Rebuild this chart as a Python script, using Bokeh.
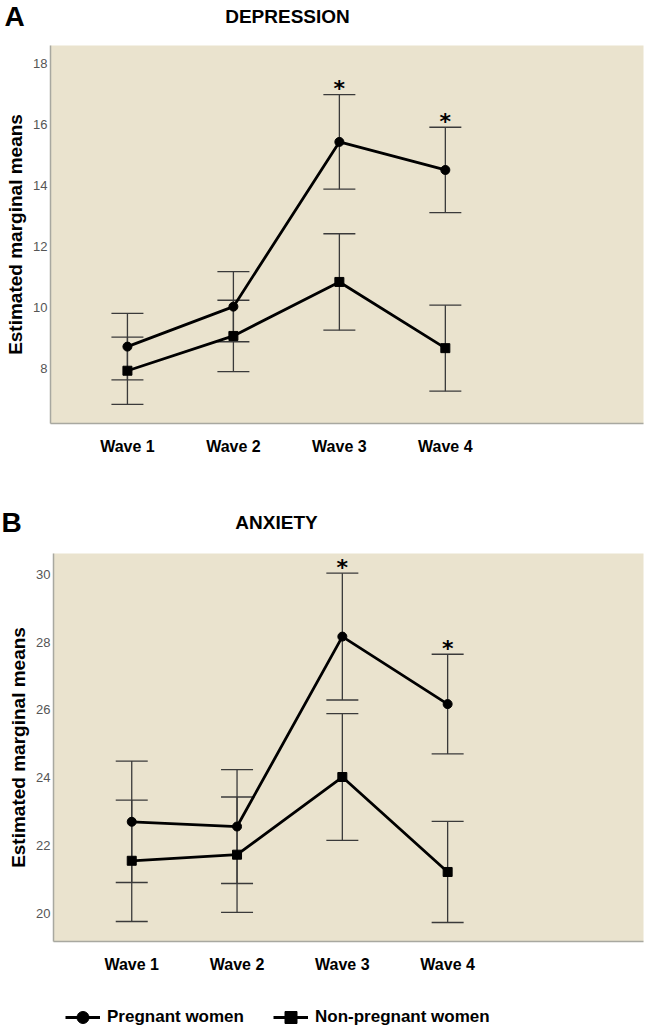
from bokeh.plotting import figure
from bokeh.models import (ColumnDataSource, Whisker, TeeHead, FixedTicker,
                          Legend, LegendItem, Range1d)
from bokeh.layouts import column
from bokeh.embed import file_html
from bokeh.resources import INLINE
from bokeh.core.properties import value

# ---------------- data ----------------
waves = ["Wave 1", "Wave 2", "Wave 3", "Wave 4"]
wave_pos = [1, 2, 3, 4]
significance = ["", "", "*", "*"]

dep_pregnant = [8.73, 10.04, 15.44, 14.52]
dep_pregnant_err = [1.09, 1.15, 1.55, 1.40]
dep_nonpregnant = [7.94, 9.08, 10.85, 8.68]
dep_nonpregnant_err = [1.10, 1.17, 1.58, 1.41]

anx_pregnant = [22.70, 22.56, 28.16, 26.17]
anx_pregnant_err = [1.79, 1.68, 1.87, 1.47]
anx_nonpregnant = [21.55, 21.73, 24.02, 21.22]
anx_nonpregnant_err = [1.79, 1.70, 1.87, 1.49]

dep_ticks = [8, 10, 12, 14, 16, 18]
anx_ticks = [20, 22, 24, 26, 28, 30]

series_labels = ["Pregnant women", "Non-pregnant women"]

SANS = "'Liberation Sans', Arial, Helvetica, sans-serif"
STAR_FONT = "'DejaVu Sans', 'Liberation Sans', sans-serif"
BG = "#EAE3CE"
W = 645


def bare(height):
    f = figure(width=W, height=height, output_backend="svg", toolbar_location=None,
               x_range=Range1d(0, W), y_range=Range1d(0, height),
               x_axis_type=None, y_axis_type=None,
               min_border=0, min_border_left=0, min_border_right=0,
               min_border_top=0, min_border_bottom=0)
    f.grid.visible = False
    f.outline_line_color = None
    f.background_fill_color = "white"
    return f


def header(height, letter, title, letter_x, title_x, text_y):
    h = bare(height)
    h.text(x=[letter_x], y=[text_y], text=[letter], text_font=value(SANS),
           text_font_style="bold", text_font_size="28px", text_align="left",
           text_baseline="middle", text_color="black")
    h.text(x=[title_x], y=[text_y], text=[title], text_font=value(SANS),
           text_font_style="bold", text_font_size="19px", text_align="center",
           text_baseline="middle", text_color="black")
    return h


def make_panel(preg, preg_err, nonp, nonp_err, ticks, yr, xr, height,
               mb_left, mb_bottom):
    p = figure(width=W, height=height, output_backend="svg",
               toolbar_location=None, x_range=Range1d(*xr), y_range=Range1d(*yr),
               min_border_left=mb_left, min_border_right=2,
               min_border_top=0, min_border_bottom=mb_bottom)
    p.background_fill_color = BG
    p.border_fill_color = "white"
    p.outline_line_color = None
    p.xgrid.visible = False
    p.ygrid.visible = False

    p.xaxis.ticker = FixedTicker(ticks=wave_pos)
    p.xaxis.major_label_overrides = {k: v for k, v in zip(wave_pos, waves)}
    p.xaxis.major_label_text_font = SANS
    p.xaxis.major_label_text_font_style = "bold"
    p.xaxis.major_label_text_font_size = "16px"
    p.xaxis.major_label_text_color = "black"
    p.xaxis.major_label_standoff = 14
    p.yaxis.ticker = FixedTicker(ticks=ticks)
    p.yaxis.major_label_text_font = SANS
    p.yaxis.major_label_text_font_size = "13px"
    p.yaxis.major_label_text_color = "#555555"
    p.yaxis.major_label_standoff = 3
    p.yaxis.axis_label = "Estimated marginal means"
    p.yaxis.axis_label_text_font = SANS
    p.yaxis.axis_label_text_font_style = "bold"
    p.yaxis.axis_label_text_font_size = "19px"
    p.yaxis.axis_label_text_color = "black"
    p.yaxis.axis_label_standoff = 4
    for ax in (p.xaxis, p.yaxis):
        ax.major_tick_line_color = None
        ax.minor_tick_line_color = None
        ax.major_tick_out = 0
        ax.major_tick_in = 0
        ax.axis_line_color = "#A8A8A0"
        ax.axis_line_width = 1.5

    src = ColumnDataSource(dict(
        x=wave_pos,
        preg=preg,
        preg_lo=[m - e for m, e in zip(preg, preg_err)],
        preg_hi=[m + e for m, e in zip(preg, preg_err)],
        nonp=nonp,
        nonp_lo=[m - e for m, e in zip(nonp, nonp_err)],
        nonp_hi=[m + e for m, e in zip(nonp, nonp_err)],
        sig=significance,
    ))

    for lo, hi in (("preg_lo", "preg_hi"), ("nonp_lo", "nonp_hi")):
        w = Whisker(source=src, base="x", lower=lo, upper=hi, dimension="height",
                    line_color="#3a3a3a", line_width=1.3,
                    upper_head=TeeHead(size=32, line_color="#3a3a3a", line_width=1.3),
                    lower_head=TeeHead(size=32, line_color="#3a3a3a", line_width=1.3))
        p.add_layout(w)

    p.line("x", "preg", source=src, line_color="black", line_width=2.8)
    p.scatter("x", "preg", source=src, marker="circle", size=9,
              fill_color="black", line_color="black")
    p.line("x", "nonp", source=src, line_color="black", line_width=2.8)
    p.scatter("x", "nonp", source=src, marker="square", size=9,
              fill_color="black", line_color="black")

    p.text("x", "preg_hi", text="sig", source=src, text_align="center",
           text_baseline="middle", y_offset=-6, text_font=value(STAR_FONT),
           text_font_style="bold", text_font_size="22px", text_color="black")
    return p


hA = header(45, "A", "DEPRESSION", 4, 287, 29)
pA = make_panel(dep_pregnant, dep_pregnant_err, dep_nonpregnant, dep_nonpregnant_err,
                dep_ticks, (6.21, 18.6), (0.274, 5.87), 433, 50, 55)

hB = header(75, "B", "ANXIETY", 1, 276, 31)
pB = make_panel(anx_pregnant, anx_pregnant_err, anx_nonpregnant, anx_nonpregnant_err,
                anx_ticks, (19.17, 30.61), (0.257, 5.86), 432, 53, 44)

# legend footer (legend-only glyphs kept outside the visible frame)
foot = bare(48)
r_line1 = foot.line(x=[-50, -40], y=[-50, -50], line_color="black", line_width=2.8)
r_mark1 = foot.scatter(x=[-50], y=[-50], marker="circle", fill_color="black", line_color="black")
r_line2 = foot.line(x=[-50, -40], y=[-50, -50], line_color="black", line_width=2.8)
r_mark2 = foot.scatter(x=[-50], y=[-50], marker="square", fill_color="black", line_color="black")
legend = Legend(items=[LegendItem(label=series_labels[0], renderers=[r_line1, r_mark1]),
                       LegendItem(label=series_labels[1], renderers=[r_line2, r_mark2])],
                orientation="horizontal", location=(65, 1),
                label_text_font=SANS, label_text_font_style="bold",
                label_text_font_size="17px", label_text_color="black",
                label_standoff=7, spacing=29,
                glyph_width=35, glyph_height=30, padding=0, margin=0,
                background_fill_alpha=0, border_line_color=None)
foot.add_layout(legend, "center")

# each figure wrapped on its own so that their frames are not aligned to each other
layout = column([column(f) for f in (hA, pA, hB, pB, foot)], spacing=0)
open("out.html", "w").write(file_html(layout, INLINE))
